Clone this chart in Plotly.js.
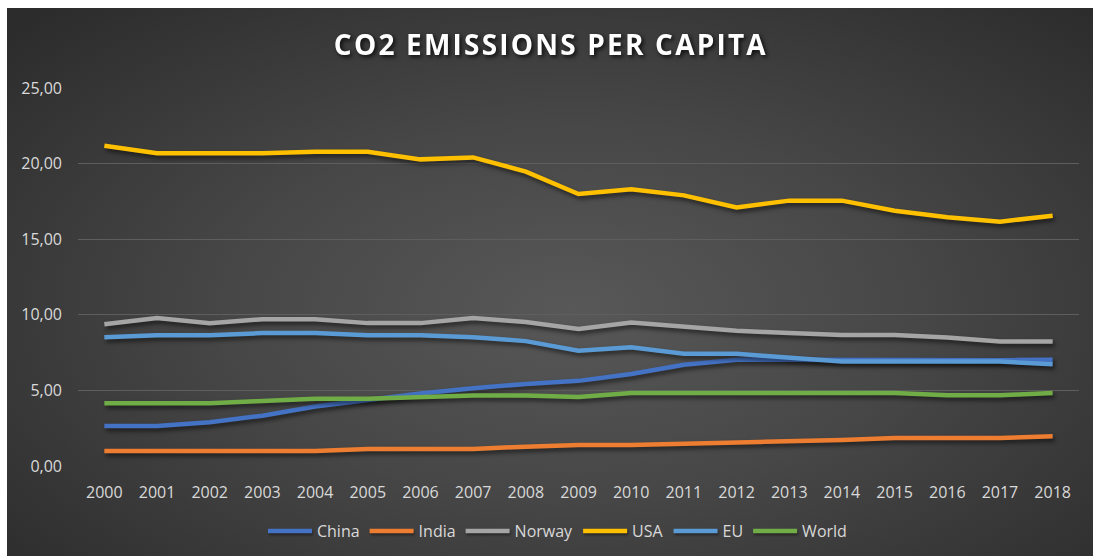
<!DOCTYPE html>
<html>
<head>
<meta charset="utf-8">
<script src="https://cdn.plot.ly/plotly-3.0.1.min.js"></script>
<style>
  html, body { margin: 0; padding: 0; background: #ffffff; width: 1093px; height: 556px; overflow: hidden; }
  #bg { position: absolute; left: 7px; top: 8px; width: 1086px; height: 548px;
        background: radial-gradient(ellipse 70% 75% at 52% 55%, #585858 0%, #474747 45%, #2c2c2c 100%); }
  #chart { position: absolute; left: 0; top: 0; width: 1093px; height: 556px; }
  .scatterlayer .js-line { filter: drop-shadow(2px 3px 2px rgba(0,0,0,0.55)); }
  .legend .legendlines path { filter: drop-shadow(1px 2px 1px rgba(0,0,0,0.4)); }
  .gtitle { filter: drop-shadow(2px 2px 2px rgba(0,0,0,0.8)); letter-spacing: 2.2px; }
</style>
</head>
<body>
<div id="bg"></div>
<div id="chart"></div>
<script>
const years = ['2000','2001','2002','2003','2004','2005','2006','2007','2008','2009','2010','2011','2012','2013','2014','2015','2016','2017','2018'];
const china  = [2.65, 2.65, 2.89, 3.33, 3.93, 4.37, 4.79, 5.14, 5.43, 5.63, 6.09, 6.69, 7.02, 7.02, 7.00, 7.00, 7.00, 7.00, 7.02];
const india  = [0.99, 0.99, 0.99, 0.99, 0.99, 1.13, 1.13, 1.13, 1.28, 1.39, 1.39, 1.46, 1.59, 1.59, 1.72, 1.85, 1.85, 1.85, 1.97];
const norway = [9.38, 9.78, 9.45, 9.71, 9.71, 9.45, 9.45, 9.78, 9.52, 9.07, 9.49, 9.22, 8.94, 8.79, 8.66, 8.66, 8.50, 8.23, 8.23];
const usa    = [21.18, 20.68, 20.68, 20.68, 20.79, 20.79, 20.28, 20.41, 19.47, 17.99, 18.30, 17.90, 17.10, 17.55, 17.55, 16.88, 16.45, 16.16, 16.55];
const eu     = [8.52, 8.65, 8.65, 8.79, 8.79, 8.65, 8.65, 8.52, 8.26, 7.62, 7.86, 7.42, 7.42, 7.20, 6.91, 6.91, 6.91, 6.91, 6.73];
const world  = [4.15, 4.15, 4.15, 4.30, 4.44, 4.44, 4.55, 4.66, 4.66, 4.57, 4.83, 4.83, 4.83, 4.83, 4.83, 4.83, 4.68, 4.68, 4.83];

const seriesNames = ['China', 'India', 'Norway', 'USA', 'EU', 'World'];
const seriesData = [china, india, norway, usa, eu, world];
const colors = ['#4472C4', '#ED7D31', '#A5A5A5', '#FFC000', '#5B9BD5', '#70AD47'];

const FONT = "'Open Sans', 'DejaVu Sans', sans-serif";

const traces = seriesNames.map((n, i) => ({
  type: 'scatter', mode: 'lines', name: n, x: years, y: seriesData[i],
  line: { color: colors[i], width: 4.5, shape: 'linear' },
  hoverinfo: 'x+y+name'
}));

const layout = {
  width: 1093, height: 556,
  paper_bgcolor: 'rgba(0,0,0,0)', plot_bgcolor: 'rgba(0,0,0,0)',
  margin: { l: 78, r: 14, t: 88, b: 90, autoexpand: false },
  separators: ',.',
  title: { text: 'CO2 EMISSIONS PER CAPITA', x: 0.504, xanchor: 'center', y: 0.918, yanchor: 'middle',
           font: { family: FONT, size: 28, color: '#ffffff', weight: 'bold' } },
  xaxis: {
    type: 'category', range: [-0.5, 18.5], showgrid: false, zeroline: false, showline: false,
    ticks: '', tickfont: { family: FONT, size: 16, color: '#d9d9d9' }, ticklabelstandoff: 15
  },
  yaxis: {
    range: [0, 25], dtick: 5, tick0: 0, tickformat: '.2f', showgrid: true, gridcolor: '#5e5e5e', gridwidth: 1,
    zeroline: false, showline: false, ticks: '', ticklabelstandoff: 15,
    tickfont: { family: FONT, size: 16, color: '#d9d9d9' }
  },
  showlegend: true,
  legend: { orientation: 'h', x: 0.479, xanchor: 'center', y: -0.172, yanchor: 'middle',
            font: { family: FONT, size: 16, color: '#d9d9d9' }, bgcolor: 'rgba(0,0,0,0)', itemwidth: 44,
            tracegroupgap: 0 }
};

Plotly.newPlot('chart', traces, layout, { displayModeBar: false, staticPlot: true });
</script>
</body>
</html>
